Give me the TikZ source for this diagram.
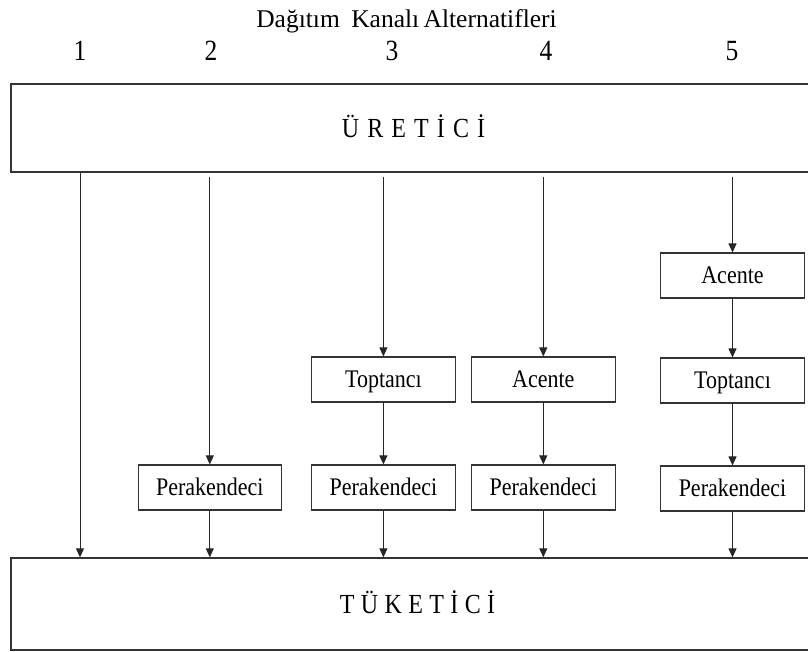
\documentclass[tikz,border=0pt]{standalone}
\usepackage{fontspec}
\setmainfont{Liberation Serif}
\usetikzlibrary{arrows.meta,calc}
% slightly tall lettering
\newcommand{\tallt}[1]{\scalebox{1}[1.15]{#1}}
\begin{document}
\begin{tikzpicture}[x=1pt,y=-1pt,
  bigbox/.style={draw=black!80, line width=1.3pt, rectangle, inner sep=0pt,
    minimum width=805pt, text height=19.3pt, text depth=1pt,
    font=\fontsize{24}{28}\selectfont},
  chbox/.style={draw=black!80, line width=1.1pt, rectangle, inner sep=0pt,
    minimum width=143.5pt, minimum height=45pt, text height=18pt, text depth=1.5pt,
    font=\fontsize{22}{26}\selectfont},
  flow/.style={draw=black!85, line width=0.9pt, -{Triangle[length=9pt,width=8pt]}},
  heading/.style={anchor=base, inner sep=0pt, font=\fontsize{25.5}{30}\selectfont}]
\clip (0,0) rectangle (808,651);

% heading and channel numbers
\node[heading] (title) at (406.5,27) {Dağıtım\hspace{5pt} Kanalı\hspace{-2pt} Alternatifleri};
\node[heading] (n1) at (80,60)  {\tallt{1}};
\node[heading] (n2) at (211,60) {\tallt{2}};
\node[heading] (n3) at (392,60) {\tallt{3}};
\node[heading] (n4) at (546,60) {\tallt{4}};
\node[heading] (n5) at (732,60) {\tallt{5}};

% producer and consumer
\node[bigbox, minimum height=88pt] (U) at (413.5,128)
  {\tallt{Ü\hspace{8.1pt}R\hspace{8.1pt}E\hspace{8.1pt}T\hspace{8.1pt}İ\hspace{8.1pt}C\hspace{8.1pt}İ}};
\node[bigbox, minimum height=92pt] (T) at (413.5,604)
  {\hspace{8pt}\tallt{T\hspace{6.4pt}Ü\hspace{6.4pt}K\hspace{6.4pt}E\hspace{6.4pt}T\hspace{6.4pt}İ\hspace{6.4pt}C\hspace{6.4pt}İ}};

% intermediaries
\node[chbox] (P2) at (209.8,487.5) {\tallt{Perakendeci}};
\node[chbox] (T3) at (383.4,379.5) {\tallt{Toptancı}};
\node[chbox] (P3) at (383.4,487.5) {\tallt{Perakendeci}};
\node[chbox] (A4) at (543.3,379.5) {\tallt{Acente}};
\node[chbox] (P4) at (543.3,487.5) {\tallt{Perakendeci}};
\node[chbox] (A5) at (732.5,275.5) {\tallt{Acente}};
\node[chbox] (T5) at (732.5,380.5) {\tallt{Toptancı}};
\node[chbox] (P5) at (732.5,488.5) {\tallt{Perakendeci}};

% channel 1: direct
\coordinate (c1) at (80,0);
\draw[flow] (c1 |- U.south) -- (c1 |- T.north);
% channel 2
\draw[flow] ($(P2 |- U.south)+(0,4)$) -- (P2.north);
\draw[flow] (P2.south) -- (P2 |- T.north);
% channel 3
\draw[flow] ($(T3 |- U.south)+(0,4)$) -- (T3.north);
\draw[flow] (T3.south) -- (P3.north);
\draw[flow] (P3.south) -- (P3 |- T.north);
% channel 4
\draw[flow] ($(A4 |- U.south)+(0,4)$) -- (A4.north);
\draw[flow] (A4.south) -- (P4.north);
\draw[flow] (P4.south) -- (P4 |- T.north);
% channel 5
\draw[flow] ($(A5 |- U.south)+(0,4)$) -- (A5.north);
\draw[flow] (A5.south) -- (T5.north);
\draw[flow] (T5.south) -- (P5.north);
\draw[flow] (P5.south) -- (P5 |- T.north);
\end{tikzpicture}
\end{document}
